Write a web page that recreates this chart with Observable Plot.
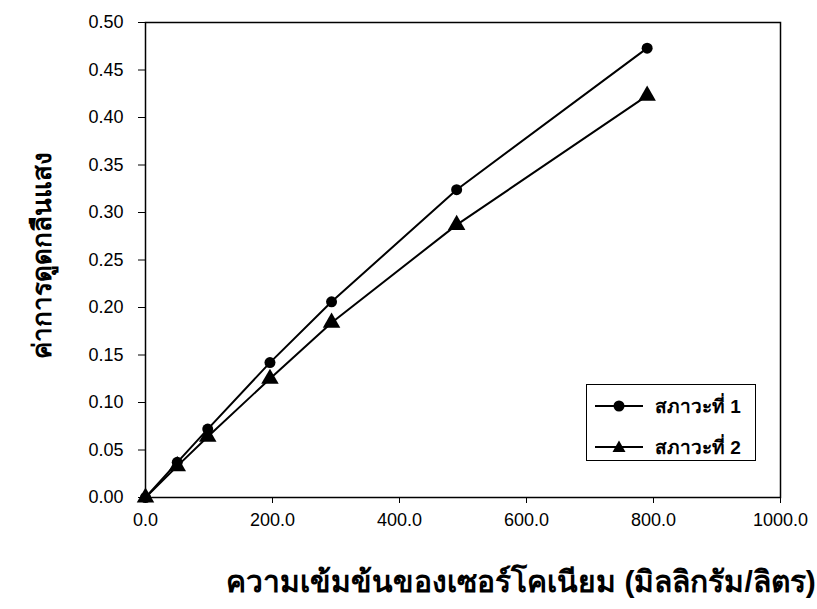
<!DOCTYPE html>
<html><head><meta charset="utf-8">
<script src="https://cdn.jsdelivr.net/npm/d3@7"></script>
<script src="https://cdn.jsdelivr.net/npm/@observablehq/plot@0.6"></script>
<style>
body{margin:0;background:#fff}
#wrap{position:relative;width:817px;height:609px;font-family:"Liberation Sans",Arial,sans-serif}
#wrap g[aria-label="x-axis tick label"], #wrap g[aria-label="y-axis tick label"]{font-size:18px}
#legend{position:absolute;left:586px;top:384px;width:168px;height:75px;border:1.5px solid #000;background:#fff}
.row{position:absolute;left:8px;height:24px;display:flex;align-items:center}
.row span{font-weight:bold;font-size:19px;margin-left:12px;color:#000}
</style>
</head><body><div id="wrap"></div>
<script>
const concentrations = [0, 50, 98, 196, 293, 490, 790];
const condition1 = [0, 0.037, 0.072, 0.142, 0.206, 0.324, 0.473];
const condition2 = [0, 0.033, 0.064, 0.125, 0.184, 0.287, 0.423];
const seriesNames = ["สภาวะที่ 1", "สภาวะที่ 2"];
const seriesSymbols = ["circle", "triangle"];
const xTicks = [0, 200, 400, 600, 800, 1000];
const yTicks = [0, 0.05, 0.10, 0.15, 0.20, 0.25, 0.30, 0.35, 0.40, 0.45, 0.50];
const xTitle = "ความเข้มข้นของเซอร์โคเนียม (มิลลิกรัม/ลิตร)";
const yTitle = "ค่าการดูดกลืนแสง";

const rows = [];
[condition1, condition2].forEach((vals, s) => {
  vals.forEach((v, i) => rows.push({x: concentrations[i], y: v, series: seriesNames[s], symbol: seriesSymbols[s]}));
});

const chart = Plot.plot({
  width: 817, height: 609,
  marginLeft: 145, marginRight: 37, marginTop: 22, marginBottom: 112,
  style: {fontFamily: '"Liberation Sans", Arial, sans-serif', fontSize: "18px", color: "#000", background: "#fff"},
  x: {domain: [0, 1000], ticks: xTicks, tickFormat: d3.format(".1f")},
  y: {domain: [0, 0.5], ticks: yTicks, tickFormat: d3.format(".2f")},
  marks: [
    Plot.frame({stroke: "#000", strokeWidth: 1.5}),
    Plot.axisX({ticks: xTicks, tickFormat: d3.format(".1f"), tickSize: 6, tickPadding: 10, label: null}),
    Plot.axisY({ticks: yTicks, tickFormat: d3.format(".2f"), tickSize: 7, tickPadding: 15, label: null}),
    Plot.line(rows, {x: "x", y: "y", z: "series", stroke: "#000", strokeWidth: 2}),
    Plot.dot(rows.filter(d => d.symbol === "circle"), {x: "x", y: "y", symbol: "circle", r: 5.5, fill: "#000"}),
    Plot.dot(rows.filter(d => d.symbol === "triangle"), {x: "x", y: "y", symbol: "triangle", r: 6.5, fill: "#000"}),
    Plot.text([xTitle], {frameAnchor: "bottom", text: d => d, textAnchor: "middle", lineAnchor: "middle", dx: 58, dy: 85, fontSize: 30, fontWeight: "bold", fill: "#000"}),
    Plot.text([yTitle], {frameAnchor: "left", text: d => d, textAnchor: "middle", lineAnchor: "middle", rotate: -90, dx: -103, dy: -5, fontSize: 26, fontWeight: "bold", fill: "#000"})
  ]
});
const wrap = document.getElementById("wrap");
wrap.appendChild(chart);

const legend = document.createElement("div");
legend.id = "legend";
seriesNames.forEach((name, i) => {
  const row = document.createElement("div");
  row.className = "row";
  row.style.top = (9 + i * 41) + "px";
  const marker = seriesSymbols[i] === "circle"
    ? '<circle cx="24" cy="12" r="5.5" fill="#000"/>'
    : '<path d="M24,5.5 L30.5,17 L17.5,17 Z" fill="#000"/>';
  row.innerHTML = '<svg width="48" height="24"><line x1="0" y1="12" x2="48" y2="12" stroke="#000" stroke-width="2"/>' + marker + '</svg><span>' + name + '</span>';
  legend.appendChild(row);
});
wrap.appendChild(legend);
</script>
</body></html>
